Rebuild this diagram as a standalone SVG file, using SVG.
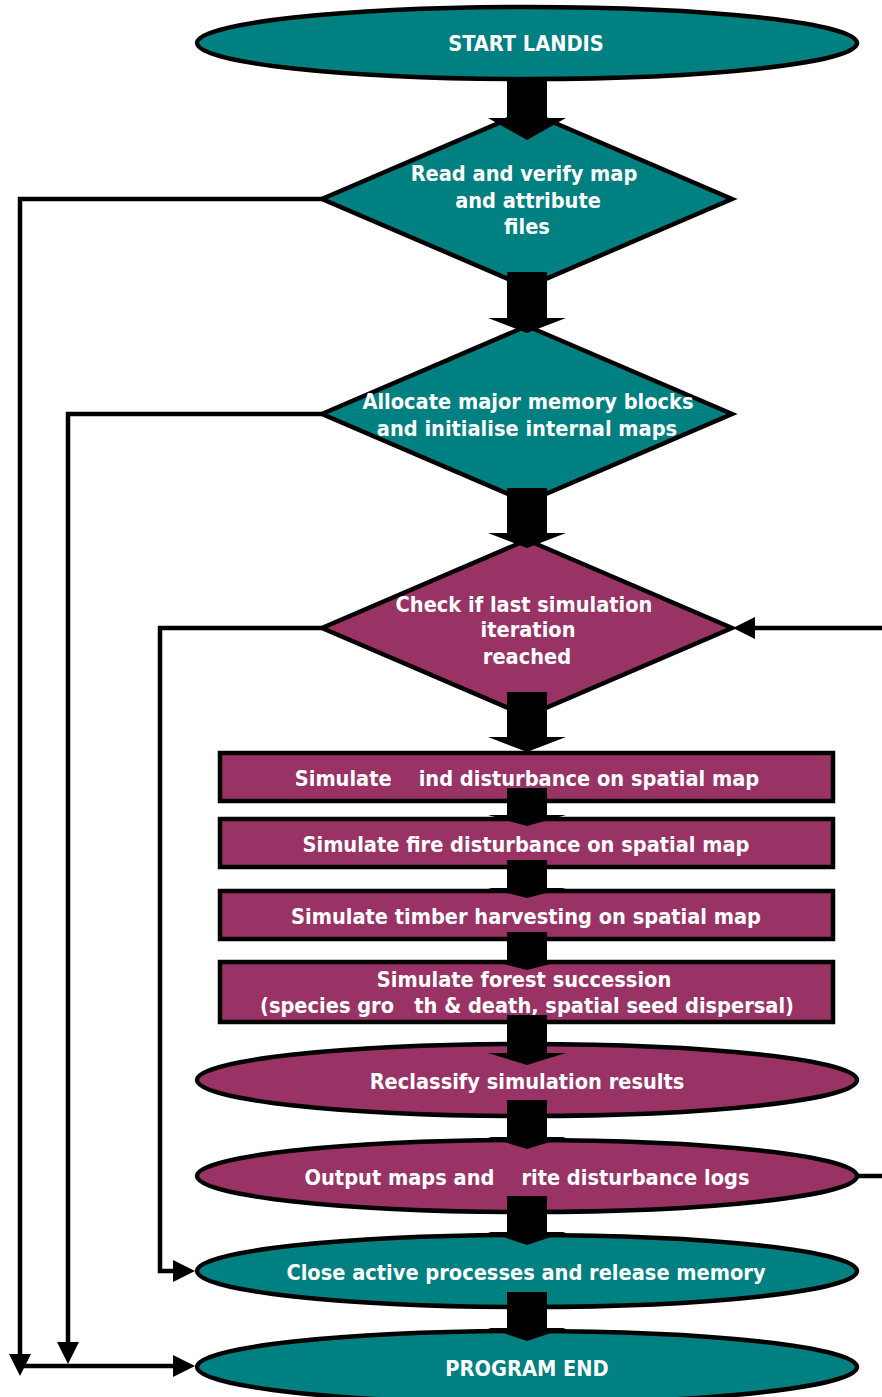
<svg xmlns="http://www.w3.org/2000/svg" width="882" height="1397" viewBox="0 0 882 1397">
<style>
.teal{fill:#008080;stroke:#000;stroke-width:4.5}
.mar{fill:#993366;stroke:#000;stroke-width:4.5}
.t{font-family:"DejaVu Sans Condensed","DejaVu Sans",sans-serif;font-stretch:condensed;font-weight:bold;font-size:21.6px;fill:#fff;text-anchor:middle;white-space:pre}
.fat{fill:#000;stroke:none}
.ln{fill:none;stroke:#000;stroke-width:4.5;stroke-linejoin:miter}
</style>
<defs>
<marker id="ah" viewBox="0 0 22 22" refX="0" refY="11" markerWidth="22" markerHeight="22" markerUnits="userSpaceOnUse" orient="auto">
<path d="M0,0 L22,11 L0,22 Z" fill="#000"/>
</marker>
</defs>
<rect width="882" height="1397" fill="#fff"/>

<g id="start">
<ellipse class="teal" cx="527" cy="43" rx="330" ry="36"/>
<text class="t" x="526" y="51">START LANDIS</text>
</g>
<g id="read">
<polygon class="teal" points="527,111 732,199 527,287 322,199"/>
<text class="t" x="524" y="181">Read and verify map</text>
<text class="t" x="528" y="208">and attribute</text>
<text class="t" x="527" y="234">files</text>
</g>
<g id="allocate">
<polygon class="teal" points="527,326 732,414 527,502 322,414"/>
<text class="t" x="528" y="409">Allocate major memory blocks</text>
<text class="t" x="527" y="436">and initialise internal maps</text>
</g>
<g id="check">
<polygon class="mar" points="527,540 732,628 527,716 322,628"/>
<text class="t" x="524" y="612">Check if last simulation</text>
<text class="t" x="528" y="637">iteration</text>
<text class="t" x="527" y="664">reached</text>
</g>
<g id="wind">
<rect class="mar" x="220" y="753" width="613" height="48"/>
<text class="t" x="527" y="786" xml:space="preserve">Simulate    ind disturbance on spatial map</text>
</g>
<g id="fire">
<rect class="mar" x="220" y="819" width="613" height="48"/>
<text class="t" x="526" y="852">Simulate fire disturbance on spatial map</text>
</g>
<g id="harvest">
<rect class="mar" x="220" y="891" width="613" height="48"/>
<text class="t" x="526" y="924">Simulate timber harvesting on spatial map</text>
</g>
<g id="succession">
<rect class="mar" x="220" y="962" width="613" height="60"/>
<text class="t" x="524" y="987">Simulate forest succession</text>
<text class="t" x="527" y="1013" xml:space="preserve">(species gro   th &amp; death, spatial seed dispersal)</text>
</g>
<g id="reclassify">
<ellipse class="mar" cx="527" cy="1080" rx="330" ry="36"/>
<text class="t" x="527" y="1089">Reclassify simulation results</text>
</g>
<g id="output">
<ellipse class="mar" cx="527" cy="1176" rx="330" ry="36"/>
<text class="t" x="527" y="1185" xml:space="preserve">Output maps and    rite disturbance logs</text>
</g>
<g id="close">
<ellipse class="teal" cx="527" cy="1271" rx="330" ry="36"/>
<text class="t" x="526" y="1280">Close active processes and release memory</text>
</g>
<g id="end">
<ellipse class="teal" cx="527" cy="1367" rx="330" ry="36"/>
<text class="t" x="527" y="1376">PROGRAM END</text>
</g>

<g id="connectors">
<path class="fat" d="M507,78 H547 V118 H566 L527,140 L488,118 H507 Z"/>
<path class="fat" d="M507,272 H547 V318 H566 L527,333 L488,318 H507 Z"/>
<path class="fat" d="M507,488 H547 V533 H566 L527,548 L488,533 H507 Z"/>
<path class="fat" d="M507,692 H547 V737 H566 L527,752 L488,737 H507 Z"/>
<path class="fat" d="M507,788 H547 V815 H566 L527,826 L488,815 H507 Z"/>
<path class="fat" d="M507,860 H547 V888 H566 L527,898 L488,888 H507 Z"/>
<path class="fat" d="M507,932 H547 V960 H566 L527,970 L488,960 H507 Z"/>
<path class="fat" d="M507,1015 H547 V1053 H566 L527,1065 L488,1053 H507 Z"/>
<path class="fat" d="M507,1100 H547 V1137 H566 L527,1149 L488,1137 H507 Z"/>
<path class="fat" d="M507,1196 H547 V1232 H566 L527,1245 L488,1232 H507 Z"/>
<path class="fat" d="M507,1292 H547 V1328 H566 L527,1341 L488,1328 H507 Z"/>

<path class="ln" d="M322,199 H20 V1354" marker-end="url(#ah)"/>
<path class="ln" d="M322,414 H68 V1342" marker-end="url(#ah)"/>
<path class="ln" d="M18,1366 H173" marker-end="url(#ah)"/>
<path class="ln" d="M322,628 H160 V1271 H173" marker-end="url(#ah)"/>
<path class="ln" d="M882,628 H755" marker-end="url(#ah)"/>
<path class="ln" d="M857,1176 H882"/>
</g>
</svg>
